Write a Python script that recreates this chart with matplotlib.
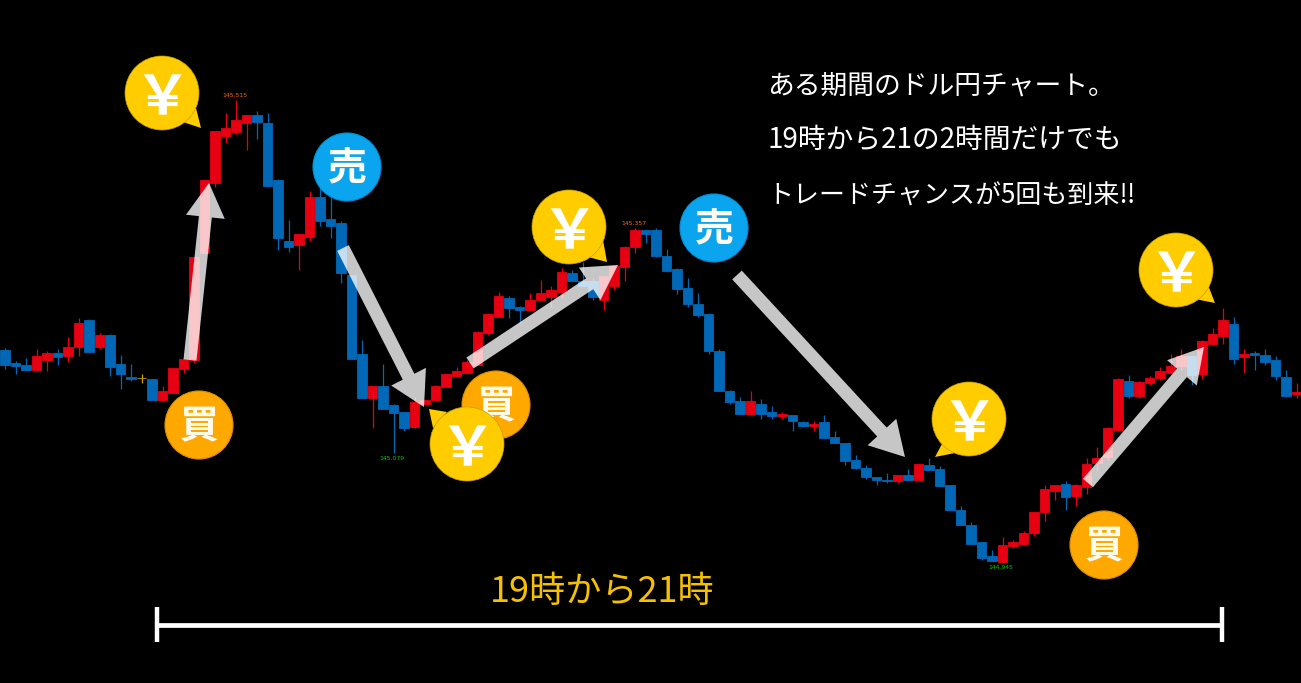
import matplotlib
matplotlib.use("Agg")
import numpy as np
import matplotlib.pyplot as plt
from matplotlib.patches import Circle, Polygon

plt.rcParams['font.family'] = ['Noto Sans CJK JP', 'DejaVu Sans']

# USD/JPY candles
opens = [145.206,145.190,145.188,145.181,145.194,145.202,145.199,145.210,145.243,145.210,
         145.225,145.189,145.173,145.172,145.170,145.144,145.153,145.183,145.194,145.326,
         145.413,145.471,145.476,145.487,145.497,145.486,145.416,145.341,145.336,145.346,
         145.395,145.368,145.363,145.299,145.201,145.147,145.162,145.138,145.130,145.111,
         145.140,145.144,145.160,145.174,145.178,145.188,145.227,145.247,145.270,145.259,
         145.256,145.268,145.272,145.278,145.301,145.292,145.291,145.268,145.285,145.309,
         145.333,145.355,145.355,145.322,145.306,145.283,145.263,145.251,145.205,145.156,
         145.143,145.127,145.140,145.130,145.125,145.126,145.117,145.112,145.117,145.099,
         145.091,145.071,145.060,145.050,145.046,145.045,145.052,145.046,145.064,145.059,
         145.040,145.009,144.990,144.969,144.952,144.945,144.964,144.967,144.980,145.006,
         145.032,145.041,145.026,145.037,145.067,145.074,145.108,145.168,145.149,145.165,
         145.172,145.178,145.186,145.199,145.176,145.214,145.224,145.238,145.197,145.202,
         145.200,145.194,145.173,145.152]
highs = [145.209,145.193,145.196,145.207,145.205,145.207,145.222,145.246,145.244,145.227,
         145.226,145.200,145.189,145.177,145.170,145.162,145.184,145.195,145.321,145.416,
         145.477,145.499,145.515,145.497,145.501,145.499,145.418,145.367,145.350,145.402,
         145.407,145.395,145.366,145.299,145.218,145.162,145.189,145.140,145.130,145.148,
         145.144,145.163,145.177,145.185,145.194,145.230,145.252,145.278,145.273,145.260,
         145.277,145.293,145.285,145.308,145.305,145.315,145.295,145.298,145.310,145.335,
         145.357,145.355,145.357,145.331,145.308,145.295,145.277,145.252,145.207,145.157,
         145.148,145.156,145.146,145.137,145.130,145.126,145.119,145.119,145.126,145.106,
         145.092,145.076,145.064,145.050,145.054,145.052,145.059,145.066,145.073,145.063,
         145.040,145.014,144.994,144.969,144.959,144.975,144.971,144.983,145.006,145.039,
         145.039,145.045,145.041,145.073,145.086,145.111,145.172,145.175,145.168,145.174,
         145.185,145.201,145.207,145.199,145.218,145.233,145.258,145.247,145.207,145.205,
         145.207,145.199,145.181,145.165]
lows = [145.183,145.177,145.180,145.180,145.180,145.188,145.191,145.199,145.204,145.207,
        145.174,145.158,145.168,145.165,145.144,145.142,145.153,145.178,145.190,145.326,
        145.407,145.462,145.473,145.453,145.467,145.409,145.330,145.327,145.305,145.341,
        145.360,145.344,145.289,145.195,145.147,145.110,145.134,145.079,145.106,145.110,
        145.139,145.143,145.160,145.173,145.177,145.188,145.225,145.247,145.246,145.239,
        145.256,145.268,145.259,145.270,145.292,145.285,145.268,145.256,145.280,145.291,
        145.326,145.339,145.321,145.303,145.275,145.259,145.247,145.201,145.156,145.139,
        145.127,145.126,145.121,145.121,145.121,145.106,145.111,145.106,145.097,145.091,
        145.064,145.059,145.047,145.040,145.042,145.042,145.046,145.046,145.058,145.038,
        145.009,144.990,144.967,144.947,144.946,144.945,144.962,144.965,144.976,144.995,
        145.021,145.009,145.013,145.029,145.058,145.070,145.106,145.147,145.147,145.163,
        145.169,145.176,145.181,145.163,145.170,145.213,145.214,145.189,145.178,145.181,
        145.188,145.169,145.148,145.147]
closes = [145.188,145.186,145.181,145.199,145.202,145.197,145.210,145.239,145.204,145.225,
          145.185,145.176,145.170,145.172,145.144,145.156,145.184,145.195,145.321,145.416,
          145.477,145.481,145.490,145.497,145.488,145.409,145.344,145.334,145.349,145.395,
          145.365,145.360,145.301,145.195,145.147,145.162,145.134,145.128,145.110,145.142,
          145.144,145.162,145.176,145.180,145.191,145.229,145.251,145.273,145.258,145.256,
          145.268,145.277,145.280,145.303,145.292,145.285,145.272,145.298,145.310,145.333,
          145.355,145.350,145.322,145.304,145.281,145.263,145.250,145.205,145.156,145.142,
          145.127,145.143,145.127,145.125,145.127,145.119,145.112,145.115,145.097,145.091,
          145.069,145.060,145.049,145.046,145.045,145.052,145.046,145.065,145.058,145.038,
          145.009,144.990,144.967,144.949,144.946,144.965,144.969,144.980,145.006,145.035,
          145.039,145.025,145.040,145.065,145.073,145.110,145.170,145.149,145.167,145.172,
          145.180,145.186,145.199,145.175,145.217,145.226,145.243,145.195,145.201,145.200,
          145.191,145.174,145.149,145.154]

# high/low price tags: candle index, price, colour
tag_idx = [22, 37, 60, 95]
tag_price = [145.515, 145.079, 145.357, 144.945]
tag_col = ['#ff6a00', '#00d000', '#ff6a00', '#00d000']

note_lines = ['ある期間のドル円チャート。', '19時から21の2時間だけでも', 'トレードチャンスが5回も到来‼']
note_sizes = [19.3, 20, 18.7]
span_label = '19時から21時'

fig = plt.figure(figsize=(13.01, 6.83), dpi=100, facecolor='black')
ax = fig.add_axes([0, 0, 1, 1])
ax.set_facecolor('black')
ax.set_xlim(-5 / 10.5, 1296 / 10.5)
ax.set_ylim(144.795, 145.6385)
ax.axis('off')

o = np.array(opens)
h = np.array(highs)
l = np.array(lows)
c = np.array(closes)
x = np.arange(len(o))
cols = np.where(c > o, '#e60012', '#0068b7').tolist()
cols[13] = '#c8a000'

ax.vlines(x, l, h, colors=cols, lw=0.9)
ax.bar(x, np.abs(c - o), bottom=np.minimum(o, c), width=0.88, color=cols, edgecolor=cols, linewidth=0.6)

for i, p, col in zip(tag_idx, tag_price, tag_col):
    up = col == '#ff6a00'
    ax.text(i - 0.15, p + (0.002 if up else -0.004), '%.3f' % p, color=col, fontsize=4.4, ha='center',
            va='bottom' if up else 'top', family='DejaVu Sans')

# everything below is placed in picture pixels
over = fig.add_axes([0, 0, 1, 1])
over.set_xlim(0, 1301)
over.set_ylim(683, 0)
over.axis('off')
over.patch.set_alpha(0)


def arrow(x0, y0, x1, y1):
    over.arrow(x0, y0, x1 - x0, y1 - y0, width=13, head_width=39, head_length=34,
               length_includes_head=True, fc='white', ec='none', alpha=0.78, zorder=2)


arrow(190, 360, 209, 183)
arrow(343, 248, 424, 407)
arrow(470, 363, 618, 265)
arrow(737, 275, 905, 457)
arrow(1088, 483, 1204, 347)


def badge(cx, cy, txt, col, edge):
    over.add_patch(Circle((cx, cy), 34, fc=col, ec=edge, lw=0.8, zorder=3))
    over.text(cx, cy + 2, txt, color='#fffdf0', fontsize=28, fontweight='bold',
              ha='center', va='center', zorder=3)


def yen(cx, cy, tail):
    over.add_patch(Polygon(tail, fc='#ffcc00', ec='none', zorder=4))
    over.add_patch(Circle((cx, cy), 37, fc='#ffcc00', ec='#c8a000', lw=0.5, zorder=4))
    over.text(cx, cy + 6, '\uffe5', color='white', fontsize=40, fontweight='bold',
              ha='center', va='center', zorder=4)


badge(199, 425, '買', '#ffa800', '#e09000')
badge(496, 405, '買', '#ffa800', '#e09000')
badge(1104, 545, '買', '#ffa800', '#e09000')
badge(347, 167, '売', '#0aa5ee', '#0090d8')
badge(714, 228, '売', '#0aa5ee', '#0090d8')

yen(162, 93, [(196, 108), (201, 128), (183, 122)])
yen(569, 227, [(603, 240), (607, 262), (588, 257)])
yen(467, 444, [(447, 412), (429, 409), (433, 428)])
yen(969, 419, [(943, 442), (935, 457), (955, 453)])
yen(1176, 270, [(1208, 285), (1215, 303), (1195, 299)])

for y, line, size in zip([86, 140, 196], note_lines, note_sizes):
    over.text(767, y, line, color='white', fontsize=size, ha='left', va='center')

over.text(602, 592, span_label, color='#f5c000', fontsize=26, ha='center', va='center')

over.plot([157, 1222], [624.5, 624.5], color='white', lw=3.4, solid_capstyle='butt')
over.plot([157, 157], [607, 642], color='white', lw=3.2, solid_capstyle='butt')
over.plot([1222, 1222], [607, 642], color='white', lw=3.2, solid_capstyle='butt')

fig.savefig('out.png', dpi=100, facecolor='black')
